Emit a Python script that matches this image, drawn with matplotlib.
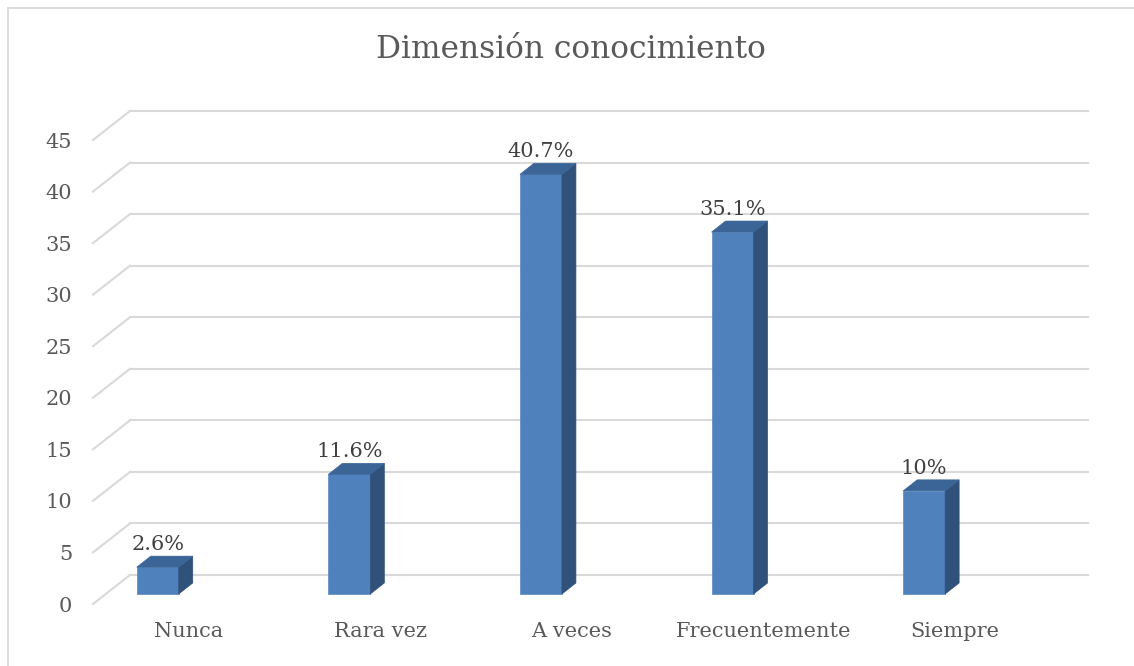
import matplotlib.pyplot as plt
from matplotlib.patches import Polygon
from matplotlib.lines import Line2D

categories = ['Nunca', 'Rara vez', 'A veces', 'Frecuentemente', 'Siempre']
values = [2.6, 11.6, 40.7, 35.1, 10]
labels = ['2.6%', '11.6%', '40.7%', '35.1%', '10%']
yticks = [0, 5, 10, 15, 20, 25, 30, 35, 40, 45]

# pseudo-3D offsets (category units, value units)
wall_dx, wall_dy = 0.193, 2.81
bar_x0, bar_y0 = -0.162, 0.97
bar_w = 0.219
depth_dx, depth_dy = 0.073, 1.07

front = '#4f81bd'
side = '#30527a'
top = '#3b6597'
grid = '#d9d9d9'
txt = '#595959'

plt.rcParams['font.family'] = ['DejaVu Serif']

fig = plt.figure(figsize=(11.34, 6.66), dpi=100)
ax = fig.add_axes([93 / 1134, 62 / 666, 958 / 1134, 464 / 666])
ax.set_xlim(-0.5, 4.5)
ax.set_ylim(0, 45)
for s in ax.spines.values():
    s.set_visible(False)

# back wall gridlines with diagonal connectors
for v in yticks:
    ax.plot([-0.5, -0.5 + wall_dx], [v, v + wall_dy], color=grid, lw=1.5,
            clip_on=False, zorder=1)
    ax.plot([-0.5 + wall_dx, 4.5 + wall_dx], [v + wall_dy, v + wall_dy],
            color=grid, lw=1.5, clip_on=False, zorder=1)

# bars: front, side and top faces
for i, v in enumerate(values):
    x0 = i + bar_x0 - bar_w / 2
    x1 = x0 + bar_w
    y0 = bar_y0
    y1 = bar_y0 + v
    ax.add_patch(Polygon([(x0, y0), (x1, y0), (x1, y1), (x0, y1)],
                         facecolor=front, edgecolor='#5a8ac4', lw=0.5,
                         clip_on=False, zorder=3))
    ax.add_patch(Polygon([(x1, y0), (x1 + depth_dx, y0 + depth_dy),
                          (x1 + depth_dx, y1 + depth_dy), (x1, y1)],
                         facecolor=side, edgecolor=side, lw=0.5,
                         clip_on=False, zorder=3))
    ax.add_patch(Polygon([(x0, y1), (x1, y1), (x1 + depth_dx, y1 + depth_dy),
                          (x0 + depth_dx, y1 + depth_dy)],
                         facecolor=top, edgecolor=top, lw=0.5,
                         clip_on=False, zorder=3))
    ax.text((x0 + x1) / 2, y1 + depth_dy + 0.2, labels[i], ha='center',
            va='bottom', fontsize=15, color='#404040', zorder=4)

ax.set_yticks(yticks)
ax.set_yticklabels([str(t) for t in yticks], fontsize=15, color=txt)
ax.set_xticks(range(len(categories)))
ax.set_xticklabels(categories, fontsize=15, color=txt)
ax.tick_params(axis='y', length=0, pad=15)
ax.tick_params(axis='x', length=0, pad=13)

fig.text(571 / 1134, 1 - 50 / 666, 'Dimensión conocimiento', ha='center',
         va='center', fontsize=22.5, color=txt)

# outer chart border (only top and left edges are visible)
bx, by = 7.5 / 1134, 1 - 7.5 / 666
fig.add_artist(Line2D([bx, 1.0], [by, by], transform=fig.transFigure,
                      color=grid, lw=1.3))
fig.add_artist(Line2D([bx, bx], [0.0, by], transform=fig.transFigure,
                      color=grid, lw=1.3))

fig.savefig('out.png', dpi=100)
